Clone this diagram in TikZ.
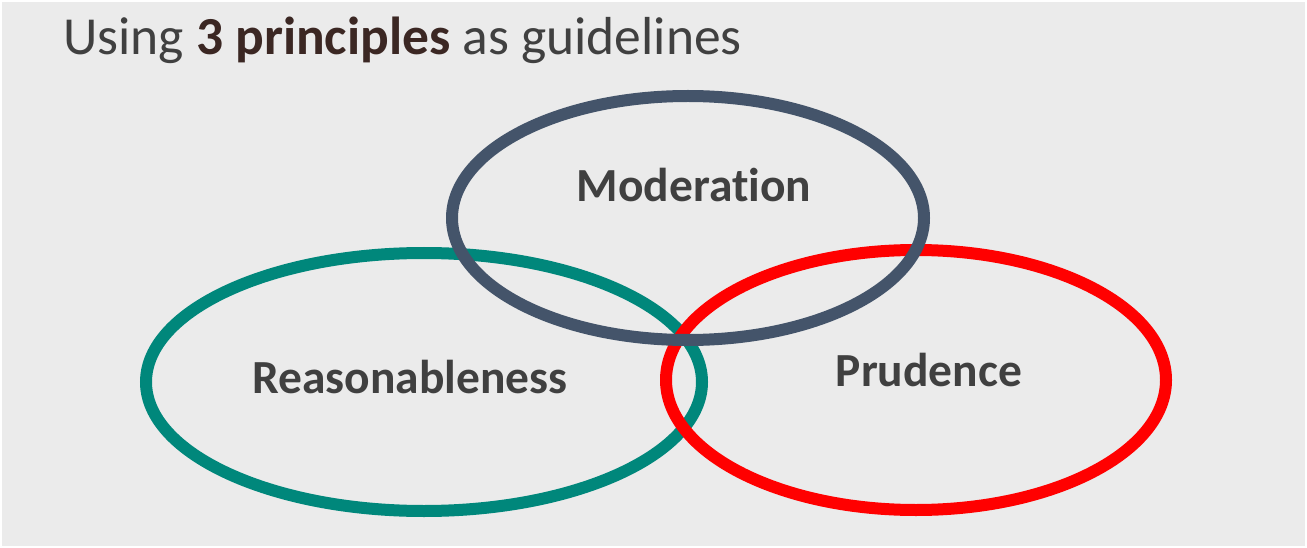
\documentclass[tikz,border=0pt]{standalone}
\usepackage{fontspec}
\setmainfont{Carlito}[Ligatures=NoCommon]
\usepackage{tikz}

\definecolor{bggray}{HTML}{EBEBEB}
\definecolor{txtgray}{HTML}{404040}
\definecolor{titlebrown}{HTML}{3B2723}
\definecolor{tealring}{HTML}{00877B}
\definecolor{slatering}{HTML}{44546A}
\definecolor{redring}{HTML}{FF0000}

\tikzset{
  ring/.style={line width=12pt},
  principle/.style={anchor=base,font=\fontsize{47.5}{47.5}\selectfont\bfseries,text=txtgray,inner sep=0pt}
}

\begin{document}
\begin{tikzpicture}[x=1pt,y=-1pt]
       \useasboundingbox(0,0)rectangle(1307,548);
       \fill[white](0,0)rectangle(1307,548);%枠
       \fill[bggray](2,2)rectangle(1305,546);%背景

       \node[anchor=base west,inner sep=0pt,text=txtgray,
             font=\fontsize{53.5}{53.5}\selectfont](title)at(63,55)
           {Using {\bfseries\color{titlebrown}3 principles} as guidelines};%見出し

       \draw[ring,tealring](424,382)ellipse[x radius=278,y radius=129];%左の楕円
       \draw[ring,redring](916,380)ellipse[x radius=250,y radius=130];%右の楕円
       \draw[ring,slatering](688,218)ellipse[x radius=236,y radius=122];%上の楕円

       \node[principle](mod)at(694,202){Moderation};
       \node[principle](rea)at(410,393){Reasonableness};
       \node[principle](pru)at(929,386){Prudence};
\end{tikzpicture}
\end{document}
